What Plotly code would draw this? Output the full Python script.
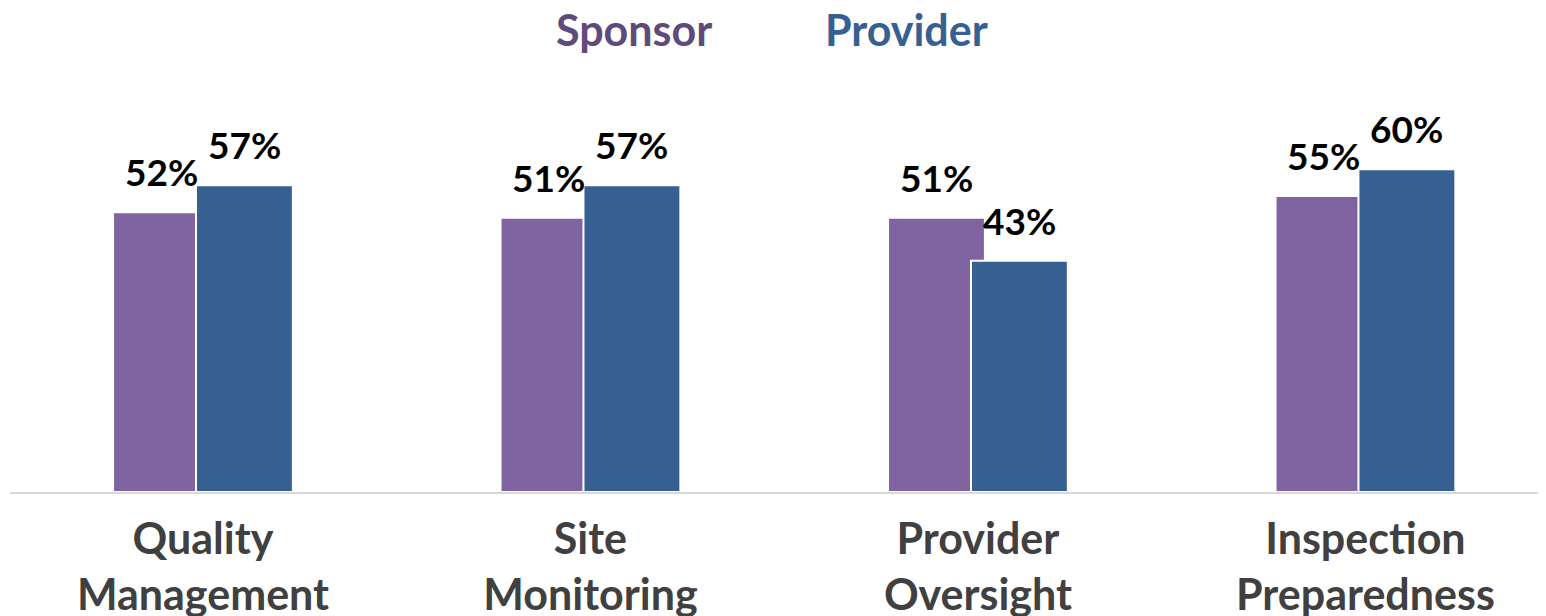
import plotly.graph_objects as go

categories = ["Quality Management", "Site Monitoring", "Provider Oversight", "Inspection Preparedness"]
tick_labels = ["Quality<br>Management", "Site<br>Monitoring", "Provider<br>Oversight", "Inspection<br>Preparedness"]
series_names = ["Sponsor", "Provider"]
sponsor = [52, 51, 51, 55]
provider = [57, 57, 43, 60]

bar_colors = ["#8064A2", "#366092"]
legend_colors = ["#604A7B", "#366092"]
FONT = "Lato"

px_per_unit = 387.5
bar_w = 0.25
offsets = [-0.232, -0.018]

fig = go.Figure()
for name, vals, col, off in zip(series_names, [sponsor, provider], bar_colors, offsets):
    fig.add_trace(go.Bar(
        x=categories, y=vals, name=name,
        marker=dict(color=col, line=dict(color="white", width=2)),
        width=bar_w, offset=off, showlegend=False,
    ))
    for c, v in zip(categories, vals):
        fig.add_annotation(
            x=c, y=v, xref="x", yref="y", text=f"{v}%", showarrow=False,
            yanchor="bottom", xanchor="center",
            xshift=(off + bar_w / 2) * px_per_unit, yshift=16,
            font=dict(family=FONT, size=37, color="black", weight="bold"),
        )

legend_x = [0.4064, 0.5834]
for name, col, lx in zip(series_names, legend_colors, legend_x):
    fig.add_annotation(
        x=lx, y=1.071, xref="paper", yref="paper", text=name, showarrow=False,
        xanchor="center", yanchor="middle",
        font=dict(family=FONT, size=43, color=col, weight="bold"),
    )

fig.update_layout(
    width=1538, height=608,
    margin=dict(l=2, r=0, t=52, b=124, autoexpand=False),
    barmode="overlay",
    plot_bgcolor="white", paper_bgcolor="white",
    xaxis=dict(
        type="category", range=[-0.498, 3.466], automargin=False,
        tickmode="array", tickvals=categories, ticktext=tick_labels,
        tickfont=dict(family=FONT, size=43, color="#404040", weight="bold"),
        ticklabelstandoff=8,
        showline=True, linecolor="#D9D9D9", linewidth=2,
        showgrid=False, ticks="", zeroline=False,
    ),
    yaxis=dict(range=[0, 80.3], visible=False, showgrid=False, zeroline=False, automargin=False),
)

fig.write_html("out.html")
